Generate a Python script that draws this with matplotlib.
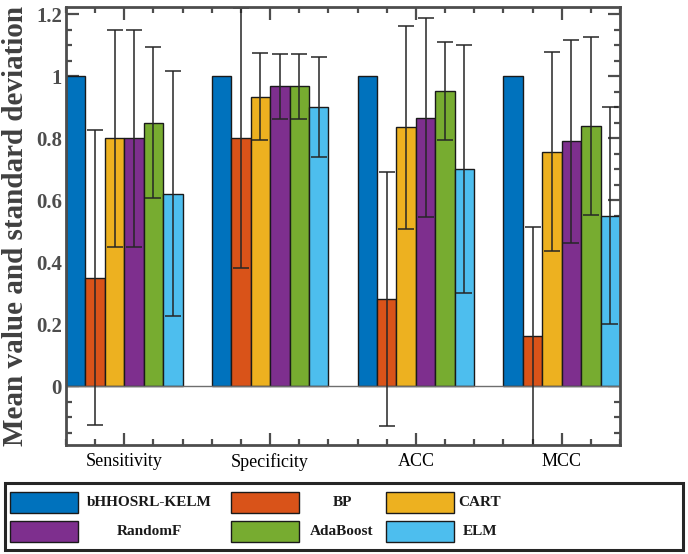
""" grouped_bars.py
Mean value and standard deviation of six classifiers on four metrics. """

import numpy as np
import matplotlib
matplotlib.use('Agg')
import matplotlib.pyplot as plt
from matplotlib.patches import Rectangle
from matplotlib.ticker import MultipleLocator

# Data
metrics = ['Sensitivity', 'Specificity', 'ACC', 'MCC']
models = ['bHHOSRL-KELM', 'BP', 'CART', 'RandomF', 'AdaBoost', 'ELM']
colors = ['#0072BD', '#D95319', '#EDB120', '#7E2F8E', '#77AC30', '#4DBEEE']

mean_kelm = [1.0, 1.0, 1.0, 1.0]
mean_bp = [0.35, 0.80, 0.28, 0.16]
mean_cart = [0.80, 0.933, 0.834, 0.756]
mean_rf = [0.80, 0.967, 0.866, 0.790]
mean_ada = [0.85, 0.967, 0.952, 0.839]
mean_elm = [0.62, 0.90, 0.70, 0.55]

std_kelm = [0.0, 0.0, 0.0, 0.0]
std_bp = [0.475, 0.42, 0.41, 0.354]
std_cart = [0.35, 0.14, 0.326, 0.32]
std_rf = [0.35, 0.105, 0.32, 0.327]
std_ada = [0.242, 0.105, 0.157, 0.287]
std_elm = [0.395, 0.16, 0.40, 0.35]

means = [mean_kelm, mean_bp, mean_cart, mean_rf, mean_ada, mean_elm]
stds = [std_kelm, std_bp, std_cart, std_rf, std_ada, std_elm]

plt.rcParams['font.family'] = ['Liberation Serif', 'DejaVu Serif']

W, H = 688, 554
fig = plt.figure(figsize=(W / 100, H / 100), dpi=100)
ax = fig.add_axes([66 / W, 1 - 445 / H, (620 - 66) / W, (445 - 7) / H])

x = np.arange(1, len(metrics) + 1)
n = len(models)
w = 0.8 / n
gray = '#4d4d4d'

for i in range(n):
    xi = x + (i - (n - 1) / 2) * w
    ax.bar(xi, means[i], width=w, color=colors[i], edgecolor='#1a1a1a',
           linewidth=1.0, zorder=2, label=models[i])
    m = np.array(means[i])
    s = np.array(stds[i])
    has = s > 0
    ax.errorbar(xi[has], m[has], yerr=s[has], fmt='none', ecolor='#262626',
                elinewidth=1.1, capsize=6, capthick=1.1, zorder=3)

ax.axhline(0, color='#6e6e6e', lw=1.0, zorder=2.5)

ax.set_xlim(0.6, 4.4)
ax.set_ylim(-0.19, 1.2226)
ax.set_xticks(x)
ax.set_xticklabels(metrics, fontsize=13, color='black')
ax.xaxis.set_minor_locator(MultipleLocator(0.2))
ax.yaxis.set_minor_locator(MultipleLocator(0.05))
ax.set_yticks([0, 0.2, 0.4, 0.6, 0.8, 1.0, 1.2])
ax.set_yticklabels(['0', '0.2', '0.4', '0.6', '0.8', '1', '1.2'],
                   fontsize=15, fontweight='bold', color=gray)

ax.tick_params(which='both', direction='in', top=True, right=True,
               color=gray, width=1.6)
ax.tick_params(which='major', length=9)
ax.tick_params(which='minor', length=4.5)
ax.tick_params(axis='y', pad=3)
ax.tick_params(axis='x', pad=6)
for sp in ax.spines.values():
    sp.set_color(gray)
    sp.set_linewidth(2.0)
    sp.set_zorder(5)

ax.set_ylabel('Mean value and standard deviation', fontsize=21,
              fontweight='bold', color='#404040', labelpad=5)

# Legend box drawn by hand so text sits centred in each slot
lg = fig.add_axes([0, 0, 1, 1], zorder=10)
lg.set_xlim(0, W)
lg.set_ylim(H, 0)
lg.axis('off')
lg.add_patch(Rectangle((5, 483), 678, 67, facecolor='white',
                       edgecolor='#262626', lw=2.2))
patch_x = [10, 231, 386]
text_x = [149, 342, 480]
row_y = [492, 521]
for k, name in enumerate(models):
    r, c = divmod(k, 3)
    lg.add_patch(Rectangle((patch_x[c], row_y[r]), 68, 21, facecolor=colors[k],
                           edgecolor='#1a1a1a', lw=1.0))
    lg.text(text_x[c], row_y[r] + 10.5, name, ha='center', va='center',
            fontsize=11, fontweight='bold', color='#1a1a1a')

fig.savefig('out.png', dpi=100)
